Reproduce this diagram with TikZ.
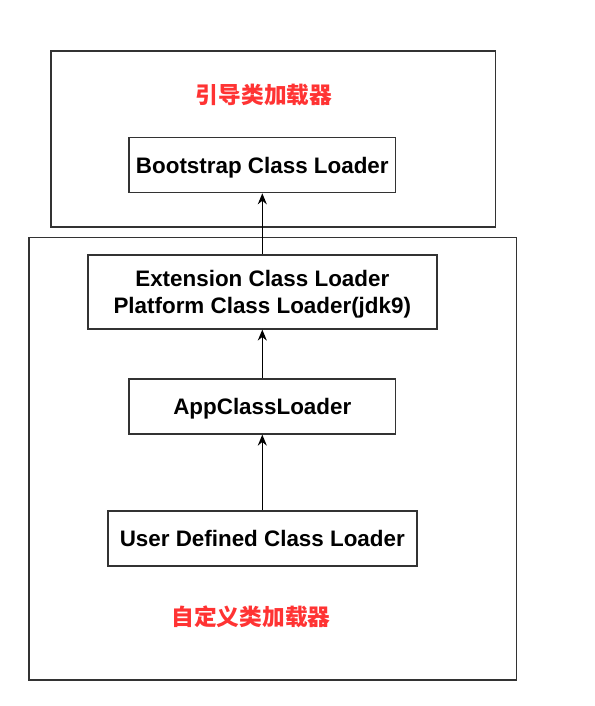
\documentclass[tikz,border=0pt]{standalone}
\usepackage{fontspec}
\setmainfont{Liberation Sans}
\newfontfamily\cjkfont{Noto Sans CJK SC}
\usetikzlibrary{arrows.meta}
\definecolor{redtxt}{HTML}{FF3333}
\definecolor{edge}{HTML}{333333}
\begin{document}
\begin{tikzpicture}[x=1pt,y=-1pt,
  group/.style={draw=edge,line width=1.6pt},
  loader/.style={draw=edge,line width=1.6pt,fill=white,font=\fontsize{22.4}{27}\selectfont\bfseries,align=center,inner sep=0pt,text depth=0pt},
  title/.style={text=redtxt,font=\fontsize{22.7}{26}\cjkfont\bfseries},
  link/.style={draw=black,line width=1.5pt,-{Stealth[length=11pt,width=9pt]}}]
\useasboundingbox (0,0) rectangle (594,706);
\fill[white] (0,0) rectangle (594,706);
\draw[group] (51,51) rectangle (495.5,227);
\draw[group] (29,237.5) rectangle (516.5,680);
\node[title] (t1) at (264,95) {引导类加载器};
\node[title] (t2) at (251,617) {自定义类加载器};
\node[loader,minimum width=266.5pt,minimum height=55pt] (boot) at (262.3,165) {Bootstrap Class Loader};
\node[loader,minimum width=349pt,minimum height=73.5pt] (ext) at (262.3,292) {Extension Class Loader\\Platform Class Loader(jdk9)};
\node[loader,minimum width=266.5pt,minimum height=55pt] (app) at (262.3,406.3) {AppClassLoader};
\node[loader,minimum width=309pt,minimum height=55.5pt] (user) at (262.3,538.5) {User Defined Class Loader};
\draw[link] (ext) -- (boot);
\draw[link] (app) -- (ext);
\draw[link] (user) -- (app);
\end{tikzpicture}
\end{document}
